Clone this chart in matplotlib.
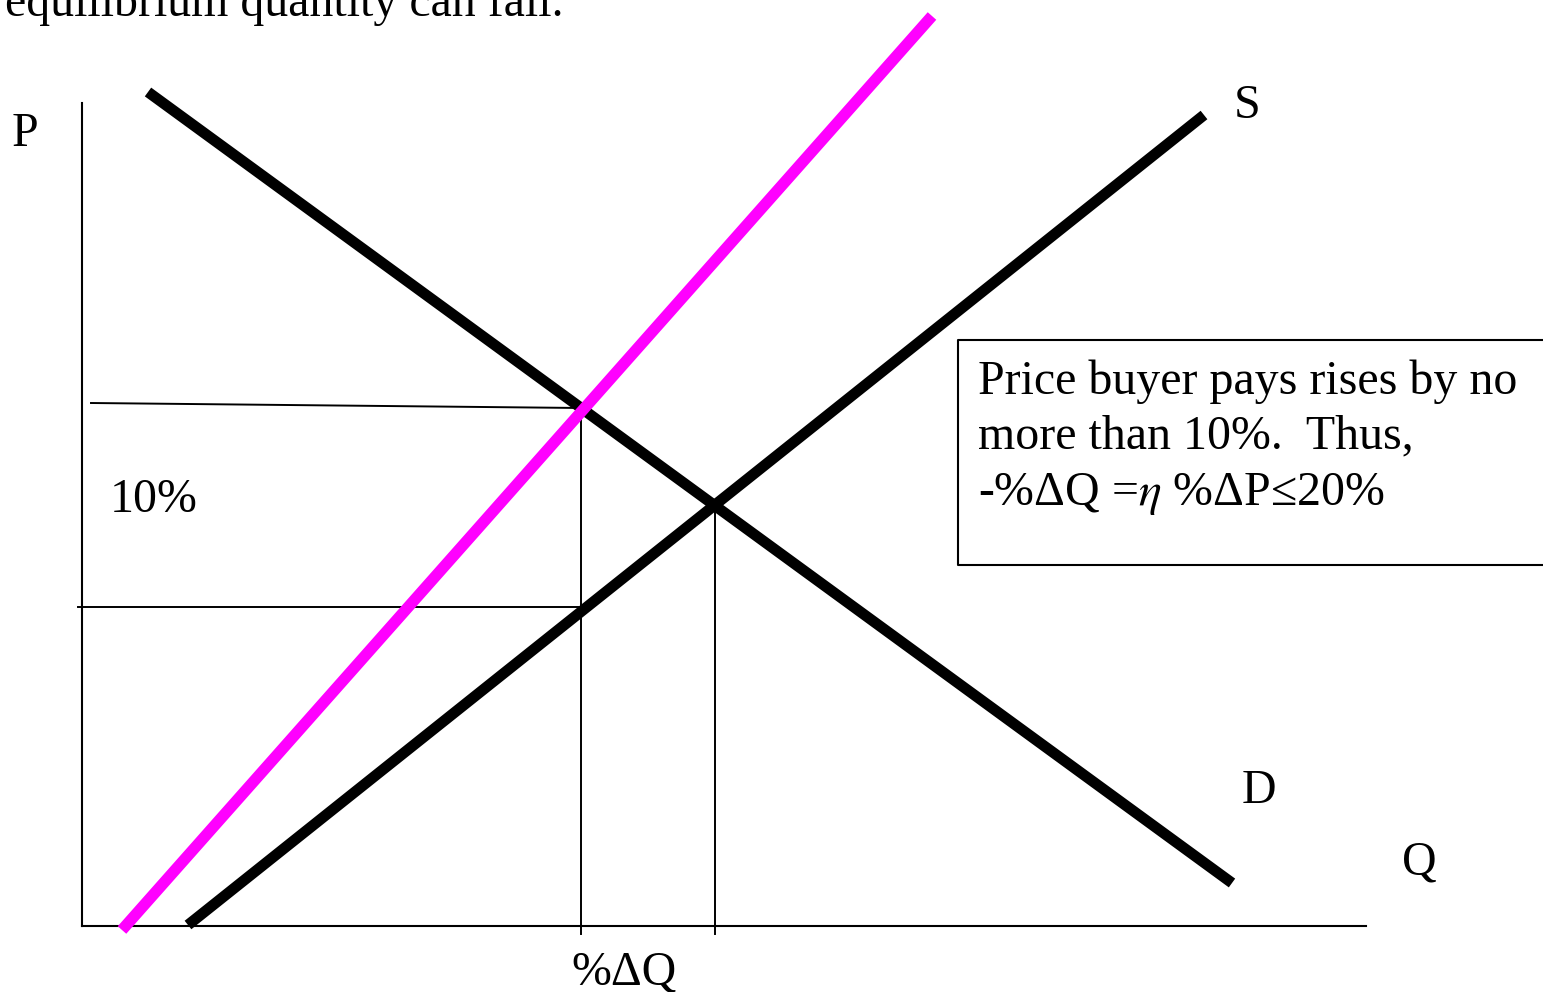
# supply / demand diagram with a tax-shifted supply curve
import matplotlib.pyplot as plt

plt.rcParams['font.family'] = ['Liberation Serif', 'DejaVu Serif']
plt.rcParams['mathtext.fontset'] = 'stix'

W, H = 1543, 992

# curve endpoints (picture pixel coords, y down)
demand_x = [148, 1232]
demand_y = [92, 883]
supply_x = [188, 1204]
supply_y = [925, 115]
shifted_x = [122, 932]
shifted_y = [930, 16]

# helper lines
upper_x = [91, 581]
upper_y = [403, 408]
lower_x = [78, 581]
lower_y = [607, 607]
vert1_x = [581, 581]
vert1_y = [408, 934]
vert2_x = [715, 715]
vert2_y = [505, 934]

# axes
yaxis_x = [82, 82]
yaxis_y = [103, 926]
xaxis_x = [82, 1366]
xaxis_y = [926, 926]

# text box
box_x = [1560, 958, 958, 1560]
box_y = [340, 340, 565, 565]

fig = plt.figure(figsize=(W / 100, H / 100), dpi=100)
ax = fig.add_axes([0, 0, 1, 1])
ax.set_xlim(0, W)
ax.set_ylim(H, 0)
ax.axis('off')

ax.plot(yaxis_x, yaxis_y, color='black', lw=1.5)
ax.plot(xaxis_x, xaxis_y, color='black', lw=1.5)
for xs, ys in [(upper_x, upper_y), (lower_x, lower_y), (vert1_x, vert1_y), (vert2_x, vert2_y)]:
    ax.plot(xs, ys, color='black', lw=1.4)

ax.plot(demand_x, demand_y, color='black', lw=7.8, solid_capstyle='butt')
ax.plot(supply_x, supply_y, color='black', lw=7.8, solid_capstyle='butt')
ax.plot(shifted_x, shifted_y, color='#ff00ff', lw=8.2, solid_capstyle='butt')

ax.plot(box_x, box_y, color='black', lw=1.5)

fs = 34.5
ax.text(5, 16, 'equilibrium quantity can fall.', fontsize=fs, va='baseline', ha='left')
ax.text(12, 146, 'P', fontsize=fs, va='baseline')
ax.text(1234, 118, 'S', fontsize=fs, va='baseline')
ax.text(1242, 803, 'D', fontsize=fs, va='baseline')
ax.text(1402, 874, 'Q', fontsize=fs, va='baseline')
ax.text(110, 512, '10%', fontsize=fs, va='baseline')
ax.text(571, 985, '%ΔQ', fontsize=fs, va='baseline')

ax.text(978, 394, 'Price buyer pays rises by no', fontsize=fs, va='baseline')
ax.text(978, 448, 'more than 10%.  Thus,', fontsize=fs, va='baseline')
ax.text(978, 505, r'-%ΔQ =$\eta$ %ΔP≤20%', fontsize=fs, va='baseline')

fig.savefig('out.png', dpi=100)
